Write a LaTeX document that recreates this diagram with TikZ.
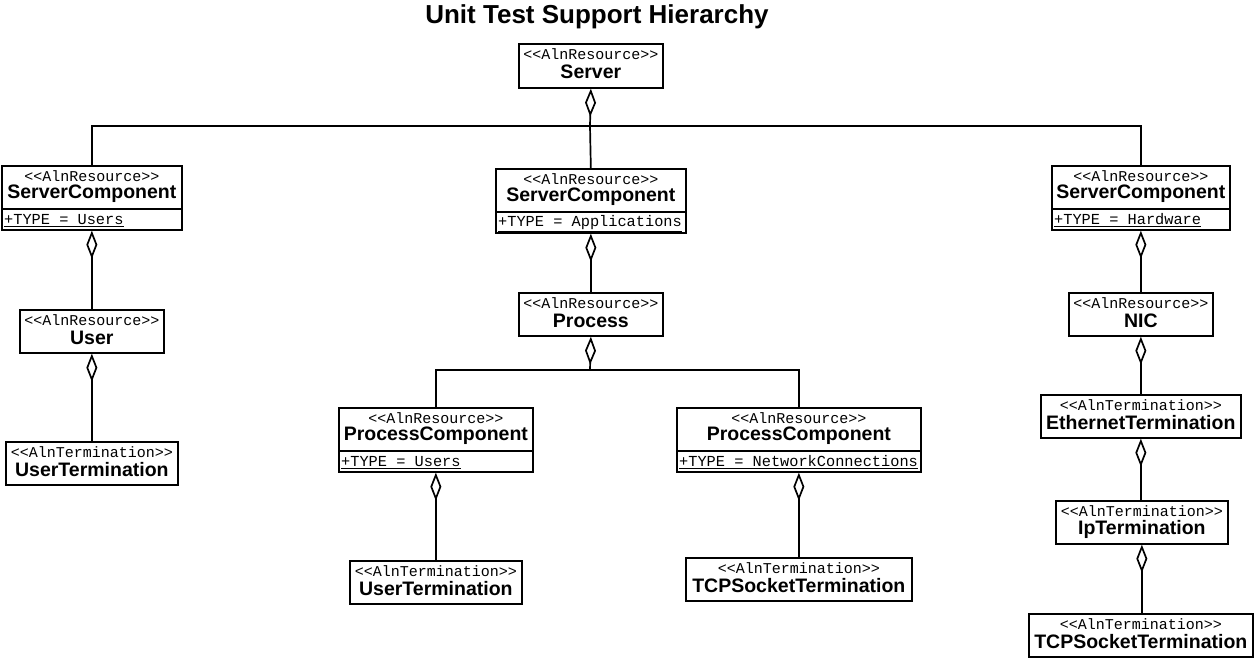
\documentclass[tikz,border=0pt]{standalone}
\usepackage{fontspec}
\setmainfont{Liberation Sans}
\setmonofont{Liberation Mono}
\usetikzlibrary{arrows.meta}
\tikzset{
  box/.style={draw, line width=1.7pt, rectangle, inner sep=0pt, anchor=north west},
  ster/.style={font=\ttfamily\fontsize{15}{15}\selectfont, inner sep=0pt},
  ttl/.style={font=\bfseries\fontsize{19.5}{19.5}\selectfont, inner sep=0pt},
  attr/.style={font=\ttfamily\fontsize{15.3}{15.3}\selectfont, inner sep=0pt, anchor=west},
  conn/.style={line width=1.7pt},
  agg/.style={conn, {Diamond[open,length=28pt,width=11pt]}-},
}
\newcommand\umlbox[7]{%
  \node[box, minimum width=#4pt, minimum height=#5pt] (#1) at (#2,#3) {};
  \node[ster] (#1-s) at ([yshift=-11.5pt]#1.north) {#6};
  \node[ttl] (#1-t) at ([yshift=-29pt]#1.north) {#7};
}
\newcommand\umlattr[2]{%
  \draw[conn] ([yshift=-44pt]#1.north west) -- ([yshift=-44pt]#1.north east);
  \node[attr] (#1-a) at ([xshift=3pt,yshift=-55.3pt]#1.north west) {\underline{#2}};
}
\begin{document}
\begin{tikzpicture}[x=1pt,y=-1pt]
\useasboundingbox (0,0) rectangle (1254,657);
\node[font=\bfseries\fontsize{26}{26}\selectfont, inner sep=0pt] (title) at (597,17) {Unit Test Support Hierarchy};

\umlbox{srv}{518}{43}{144}{44}{<<AlnResource>>}{Server}
\umlbox{sc1}{1}{165}{180}{64}{<<AlnResource>>}{ServerComponent}
\umlattr{sc1}{+TYPE = Users}
\umlbox{sc2}{495}{168}{190}{64}{<<AlnResource>>}{ServerComponent}
\umlattr{sc2}{+TYPE = Applications}
\umlbox{sc3}{1051}{165}{178}{64}{<<AlnResource>>}{ServerComponent}
\umlattr{sc3}{+TYPE = Hardware}
\umlbox{usr}{19}{309}{144}{43}{<<AlnResource>>}{User}
\umlbox{ut1}{5}{441}{172}{43}{<<AlnTermination>>}{UserTermination}
\umlbox{proc}{518}{292}{144}{43}{<<AlnResource>>}{Process}
\umlbox{pc1}{338}{407}{194}{64}{<<AlnResource>>}{ProcessComponent}
\umlattr{pc1}{+TYPE = Users}
\umlbox{pc2}{676}{407}{244}{64}{<<AlnResource>>}{ProcessComponent}
\umlattr{pc2}{+TYPE = NetworkConnections}
\umlbox{ut2}{349}{560}{172}{43}{<<AlnTermination>>}{UserTermination}
\umlbox{tcp1}{685}{557}{226}{43}{<<AlnTermination>>}{TCPSocketTermination}
\umlbox{nic}{1068}{292}{144}{43}{<<AlnResource>>}{NIC}
\umlbox{eth}{1040}{394}{200}{43}{<<AlnTermination>>}{EthernetTermination}
\umlbox{ip}{1055}{500}{172}{43}{<<AlnTermination>>}{IpTermination}
\umlbox{tcp2}{1028}{613}{224}{43}{<<AlnTermination>>}{TCPSocketTermination}

% server fork
\draw[agg] (srv.south) -- (590,126) coordinate (bus1);
\draw[conn] (sc1.north) |- (bus1) -| (sc3.north);
\draw[conn] (bus1) -- (sc2.north);
% process fork
\draw[agg] (proc.south) -- (590,370) coordinate (bus2);
\draw[conn] (pc1.north) |- (bus2) -| (pc2.north);
% chains
\draw[agg] (sc1.south) -- (sc1.south |- usr.north);
\draw[agg] (usr.south) -- (usr.south |- ut1.north);
\draw[agg] (sc2.south) -- (proc.north);
\draw[agg] (pc1.south) -- (pc1.south |- ut2.north);
\draw[agg] (pc2.south) -- (pc2.south |- tcp1.north);
\draw[agg] (sc3.south) -- (nic.north);
\draw[agg] (nic.south) -- (nic.south |- eth.north);
\draw[agg] (eth.south) -- (eth.south |- ip.north);
\draw[agg] (ip.south) -- (ip.south |- tcp2.north);
\end{tikzpicture}
\end{document}
